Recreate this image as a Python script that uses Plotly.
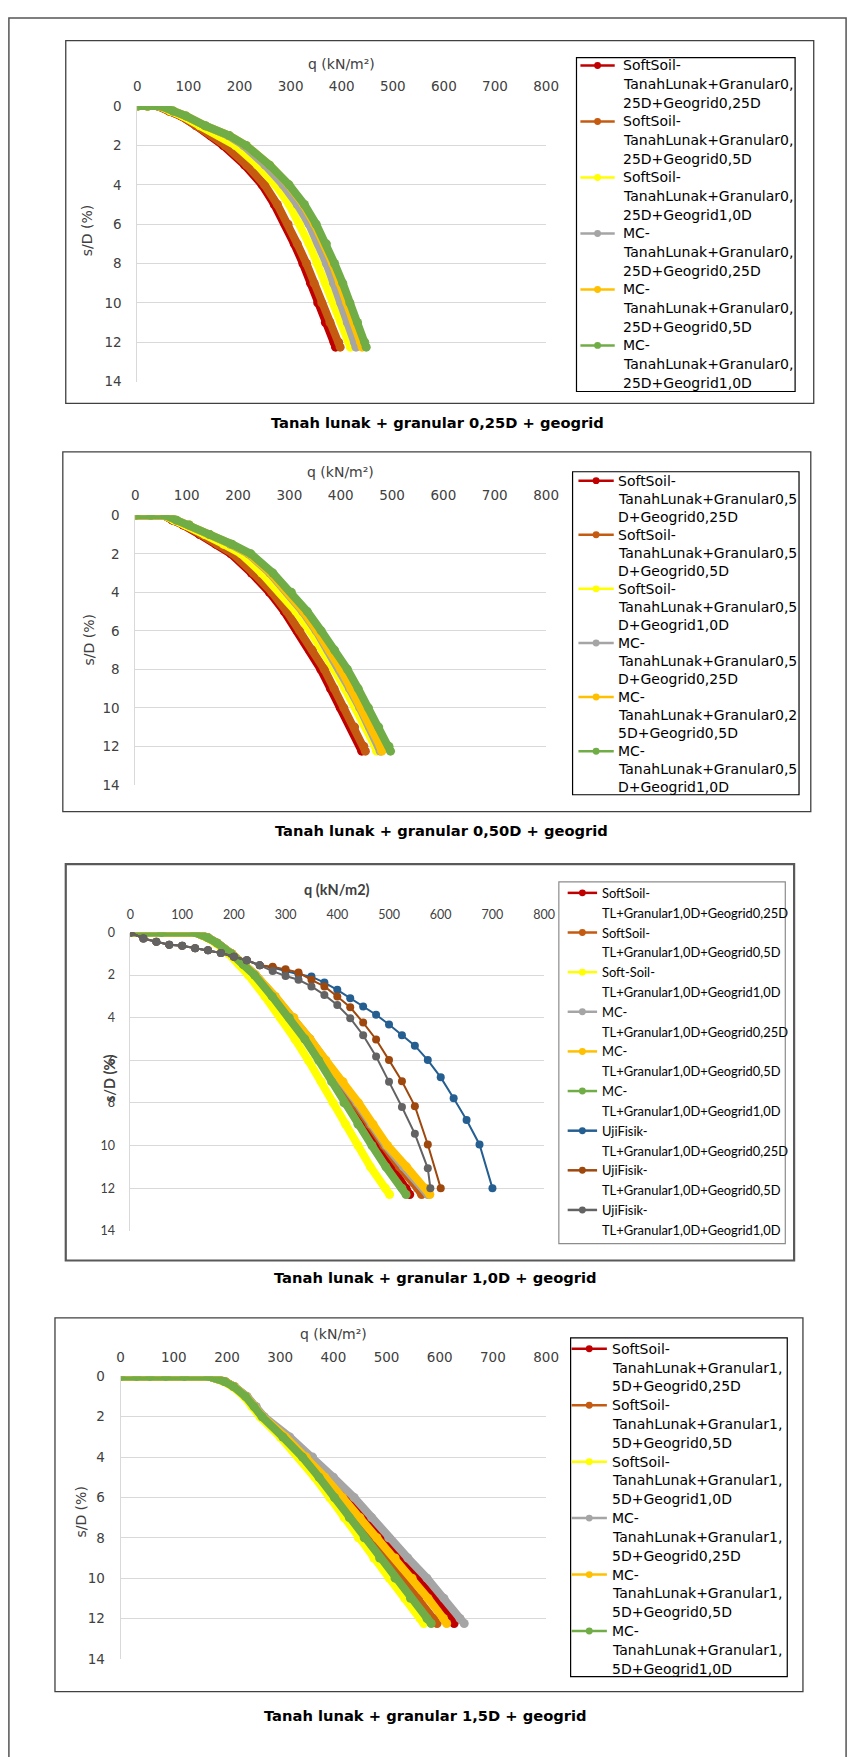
import plotly.graph_objects as go

W, H = 863, 1757

# ---------------- DATA ----------------
# Panel 1 : Tanah lunak + granular 0,25D + geogrid   (s/D in %, q in kN/m2)
S_P1 = [0, 0, 0, 0.25, 0.5, 1, 1.5, 2, 3, 4, 5, 6, 7, 8, 9, 10, 11, 12, 12.25]
Q_P1_SS_025 = [0, 20, 40, 62, 85, 115, 143, 168, 210, 244, 268, 289, 307, 324, 339, 353, 368, 385, 388]
Q_P1_SS_05 = [0, 20, 40, 62, 85, 116, 146, 172, 214, 249, 274, 295, 313, 331, 346, 361, 377, 394, 397]
Q_P1_SS_10 = [0, 20, 42, 65, 88, 122, 160, 192, 235, 270, 297, 318, 336, 352, 368, 384, 399, 414, 417]
Q_P1_MC_025 = [0, 20, 45, 70, 95, 133, 178, 208, 250, 285, 313, 336, 354, 370, 384, 398, 411, 425, 428]
Q_P1_MC_05 = [0, 20, 45, 70, 95, 133, 180, 213, 259, 296, 325, 347, 366, 382, 396, 410, 424, 437, 440]
Q_P1_MC_10 = [0, 20, 45, 70, 95, 133, 180, 213, 259, 297, 327, 350, 370, 386, 402, 416, 431, 445, 448]

# Panel 2 : Tanah lunak + granular 0,50D + geogrid
S_P2 = [0, 0, 0, 0.25, 0.5, 1, 1.5, 2, 3, 4, 5, 6, 7, 8, 9, 10, 11, 12, 12.25]
Q_P2_SS_025 = [0, 30, 55, 72, 93, 125, 157, 186, 226, 261, 290, 315, 339, 361, 380, 399, 420, 438, 441]
Q_P2_SS_05 = [0, 30, 55, 73, 95, 128, 160, 190, 230, 266, 295, 320, 345, 368, 387, 406, 427, 445, 448]
Q_P2_SS_10 = [0, 30, 55, 75, 98, 135, 172, 206, 246, 282, 313, 340, 365, 387, 408, 429, 449, 467, 470]
Q_P2_MC_025 = [0, 30, 58, 80, 104, 144, 185, 220, 262, 296, 326, 352, 375, 397, 417, 437, 456, 474, 477]
Q_P2_MC_05 = [0, 30, 58, 80, 105, 145, 187, 222, 264, 298, 328, 354, 378, 400, 420, 440, 460, 477, 480]
Q_P2_MC_10 = [0, 30, 58, 80, 105, 145, 188, 225, 268, 304, 335, 362, 388, 413, 434, 454, 474, 494, 497]

# Panel 3 : Tanah lunak + granular 1,0D + geogrid
S_P3 = [0, 0, 0, 0.25, 0.5, 1, 1.5, 2, 3, 4, 5, 6, 7, 8, 9, 10, 11, 12, 12.3]
Q_P3_SS_025 = [0, 60, 125, 150, 168, 195, 218, 240, 275, 310, 342, 371, 398, 424, 452, 480, 507, 533, 540]
Q_P3_SS_05 = [0, 60, 125, 150, 168, 196, 220, 242, 278, 314, 346, 376, 406, 434, 462, 490, 520, 555, 563]
Q_P3_SS_10 = [0, 60, 125, 148, 165, 190, 210, 228, 260, 290, 318, 344, 369, 392, 416, 440, 464, 493, 501]
Q_P3_MC_025 = [0, 60, 125, 150, 168, 196, 220, 242, 279, 315, 347, 377, 409, 438, 466, 494, 528, 566, 575]
Q_P3_MC_05 = [0, 60, 125, 150, 168, 196, 220, 242, 280, 316, 347, 378, 411, 441, 469, 497, 534, 571, 579]
Q_P3_MC_10 = [0, 60, 125, 150, 168, 195, 218, 240, 274, 307, 337, 364, 389, 413, 440, 467, 494, 525, 533]
# physical tests (UjiFisik)
Q_UJI_025 = [0, 25, 50, 75, 100, 125, 150, 175, 200, 225, 250, 275, 300, 325, 350, 375, 400,
             425, 450, 475, 500, 525, 550, 575, 600, 625, 650, 675, 700]
S_UJI_025 = [0, 0.28, 0.43, 0.57, 0.62, 0.74, 0.83, 0.96, 1.14, 1.30, 1.54, 1.65, 1.81, 1.96, 2.07, 2.35,
             2.69, 3.09, 3.47, 3.86, 4.32, 4.82, 5.31, 5.99, 6.80, 7.78, 8.80, 9.95, 12.0]
Q_UJI_05 = [0, 25, 50, 75, 100, 125, 150, 175, 200, 225, 250, 275, 300, 325, 350, 375, 400,
            425, 450, 475, 500, 525, 550, 575, 600]
S_UJI_05 = [0, 0.28, 0.43, 0.57, 0.62, 0.74, 0.83, 0.96, 1.14, 1.30, 1.54, 1.61, 1.73, 1.88, 2.22, 2.53,
            3.0, 3.51, 4.23, 5.02, 5.99, 6.98, 8.15, 9.95, 12.0]
Q_UJI_10 = [0, 25, 50, 75, 100, 125, 150, 175, 200, 225, 250, 275, 300, 325, 350, 375, 400,
            425, 450, 475, 500, 525, 550, 575, 580]
S_UJI_10 = [0, 0.28, 0.43, 0.57, 0.62, 0.74, 0.83, 0.96, 1.14, 1.30, 1.54, 1.81, 2.04, 2.22, 2.53, 2.93,
            3.40, 4.02, 4.82, 5.82, 7.01, 8.19, 9.45, 11.07, 12.0]

# Panel 4 : Tanah lunak + granular 1,5D + geogrid
S_P4 = [0, 0, 0, 0, 0, 0, 0.25, 0.5, 1, 1.5, 2, 3, 4, 5, 6, 7, 8, 9, 10, 11, 12, 12.25]
Q_P4_SS_025 = [0, 30, 55, 85, 120, 165, 196, 213, 237, 254, 268, 312, 352, 388, 422, 456, 490, 525, 560, 590, 620, 627]
Q_P4_SS_05 = [0, 30, 55, 85, 120, 165, 195, 212, 235, 251, 266, 307, 345, 378, 410, 440, 470, 500, 530, 560, 589, 595]
Q_P4_SS_10 = [0, 30, 55, 85, 120, 165, 193, 210, 232, 247, 262, 300, 335, 365, 393, 420, 447, 476, 505, 534, 563, 570]
Q_P4_MC_025 = [0, 30, 55, 85, 120, 165, 196, 214, 238, 255, 270, 318, 361, 400, 439, 472, 504, 540, 576, 608, 638, 646]
Q_P4_MC_05 = [0, 30, 55, 85, 120, 165, 196, 213, 236, 252, 267, 310, 349, 384, 417, 450, 482, 516, 548, 578, 607, 613]
Q_P4_MC_10 = [0, 30, 55, 85, 120, 165, 195, 212, 235, 251, 266, 305, 342, 373, 402, 430, 458, 487, 516, 545, 576, 584]

# Legend labels (as wrapped in the original)
LEG_P1 = [["SoftSoil-", "TanahLunak+Granular0,", "25D+Geogrid0,25D"],
          ["SoftSoil-", "TanahLunak+Granular0,", "25D+Geogrid0,5D"],
          ["SoftSoil-", "TanahLunak+Granular0,", "25D+Geogrid1,0D"],
          ["MC-", "TanahLunak+Granular0,", "25D+Geogrid0,25D"],
          ["MC-", "TanahLunak+Granular0,", "25D+Geogrid0,5D"],
          ["MC-", "TanahLunak+Granular0,", "25D+Geogrid1,0D"]]
LEG_P2 = [["SoftSoil-", "TanahLunak+Granular0,5", "D+Geogrid0,25D"],
          ["SoftSoil-", "TanahLunak+Granular0,5", "D+Geogrid0,5D"],
          ["SoftSoil-", "TanahLunak+Granular0,5", "D+Geogrid1,0D"],
          ["MC-", "TanahLunak+Granular0,5", "D+Geogrid0,25D"],
          ["MC-", "TanahLunak+Granular0,2", "5D+Geogrid0,5D"],
          ["MC-", "TanahLunak+Granular0,5", "D+Geogrid1,0D"]]
LEG_P3 = [["SoftSoil-", "TL+Granular1,0D+Geogrid0,25D"],
          ["SoftSoil-", "TL+Granular1,0D+Geogrid0,5D"],
          ["Soft-Soil-", "TL+Granular1,0D+Geogrid1,0D"],
          ["MC-", "TL+Granular1,0D+Geogrid0,25D"],
          ["MC-", "TL+Granular1,0D+Geogrid0,5D"],
          ["MC-", "TL+Granular1,0D+Geogrid1,0D"],
          ["UjiFisik-", "TL+Granular1,0D+Geogrid0,25D"],
          ["UjiFisik-", "TL+Granular1,0D+Geogrid0,5D"],
          ["UjiFisik-", "TL+Granular1,0D+Geogrid1,0D"]]
LEG_P4 = [["SoftSoil-", "TanahLunak+Granular1,", "5D+Geogrid0,25D"],
          ["SoftSoil-", "TanahLunak+Granular1,", "5D+Geogrid0,5D"],
          ["SoftSoil-", "TanahLunak+Granular1,", "5D+Geogrid1,0D"],
          ["MC-", "TanahLunak+Granular1,", "5D+Geogrid0,25D"],
          ["MC-", "TanahLunak+Granular1,", "5D+Geogrid0,5D"],
          ["MC-", "TanahLunak+Granular1,", "5D+Geogrid1,0D"]]

CAPTIONS = ["Tanah lunak + granular 0,25D + geogrid",
            "Tanah lunak + granular 0,50D + geogrid",
            "Tanah lunak + granular 1,0D + geogrid",
            "Tanah lunak + granular 1,5D + geogrid"]
X_TICKS = [0, 100, 200, 300, 400, 500, 600, 700, 800]
Y_TICKS = [0, 2, 4, 6, 8, 10, 12, 14]

FEM_COLORS = ["#C00000", "#C55A11", "#FFFF00", "#A5A5A5", "#FFC000", "#70AD47"]
UJI_COLORS = ["#255E91", "#9E480E", "#636363"]

# ---------------- LAYOUT GEOMETRY (pixels) ----------------
def px(x):
    return x / W

def py(y):
    return 1 - y / H

VERD = "DejaVu Sans, Verdana, sans-serif"
CALI = "Lato, Calibri, sans-serif"

panels = [
    dict(box=(63, 33, 826, 399), plot=(136, 99, 553, 377),
         series=[(S_P1, q) for q in [Q_P1_SS_025, Q_P1_SS_05, Q_P1_SS_10, Q_P1_MC_025, Q_P1_MC_05, Q_P1_MC_10]],
         uji=[], leg=LEG_P1, legbox=(584, 50, 807, 387), leg0=58, lsp=19, esp=56.5,
         lx=(588, 623), tx=629, lfont=(VERD, 14), tickfont=(VERD, 13.5),
         qtitle=("q (kN/m²)", 57, False), ytitle=(85, 225), ticky=78, cap=(442, 418),
         boxcol="#404040", boxw=1.3, legcol="#000000"),
    dict(box=(60, 448, 823, 811), plot=(134, 512, 553, 784),
         series=[(S_P2, q) for q in [Q_P2_SS_025, Q_P2_SS_05, Q_P2_SS_10, Q_P2_MC_025, Q_P2_MC_05, Q_P2_MC_10]],
         uji=[], leg=LEG_P2, legbox=(580, 468, 811, 794), leg0=477, lsp=18.3, esp=54.6,
         lx=(586, 622), tx=624, lfont=(VERD, 14), tickfont=(VERD, 13.5),
         qtitle=("q (kN/m²)", 468, False), ytitle=(87, 638), ticky=490, cap=(446, 830),
         boxcol="#404040", boxw=1.3, legcol="#000000"),
    dict(box=(63, 864, 806, 1264), plot=(129, 933, 551, 1234),
         series=[(S_P3, q) for q in [Q_P3_SS_025, Q_P3_SS_05, Q_P3_SS_10, Q_P3_MC_025, Q_P3_MC_05, Q_P3_MC_10]],
         uji=[(S_UJI_025, Q_UJI_025), (S_UJI_05, Q_UJI_05), (S_UJI_10, Q_UJI_10)],
         leg=LEG_P3, legbox=(566, 882, 797, 1247), leg0=893, lsp=20, esp=40,
         lx=(575, 605), tx=608, lfont=(CALI, 12.9), tickfont=(CALI, 12.5),
         qtitle=("q (kN/m2)", 890, True), ytitle=(107, 1080), ticky=913, cap=(440, 1281),
         boxcol="#595959", boxw=2.2, legcol="#8c8c8c"),
    dict(box=(52, 1322, 815, 1699), plot=(119, 1381, 553, 1666),
         series=[(S_P4, q) for q in [Q_P4_SS_025, Q_P4_SS_05, Q_P4_SS_10, Q_P4_MC_025, Q_P4_MC_05, Q_P4_MC_10]],
         uji=[], leg=LEG_P4, legbox=(578, 1342, 799, 1684), leg0=1353, lsp=19, esp=57,
         lx=(579, 615), tx=618, lfont=(VERD, 14), tickfont=(VERD, 13.5),
         qtitle=("q (kN/m²)", 1338, False), ytitle=(79, 1518), ticky=1360, cap=(430, 1723),
         boxcol="#404040", boxw=1.3, legcol="#000000"),
]

fig = go.Figure()
shapes = []
annotations = []
layout_axes = {}

# outer frame
shapes.append(dict(type="rect", xref="paper", yref="paper", x0=px(5), x1=px(859), y0=py(1790), y1=py(10),
                   line=dict(color="#555555", width=1.5), fillcolor="rgba(0,0,0,0)", layer="below"))

for i, p in enumerate(panels):
    n = "" if i == 0 else str(i + 1)
    xa, ya = "x" + n, "y" + n
    L, T, R, B = p["plot"]
    tf = dict(family=p["tickfont"][0], size=p["tickfont"][1], color="#404040")
    layout_axes["xaxis" + n] = dict(domain=[px(L), px(R)], anchor=ya, side="top", range=[0, 800],
                                    tickvals=X_TICKS, showgrid=False, zeroline=False, showline=False,
                                    ticks="", tickfont=tf, ticklabelstandoff=T - p["ticky"] - 10)
    layout_axes["yaxis" + n] = dict(domain=[py(B), py(T)], anchor=xa, range=[14, 0], tickvals=Y_TICKS,
                                    showgrid=True, gridcolor="#d9d9d9", gridwidth=1, zeroline=False,
                                    showline=True, linecolor="#d9d9d9", linewidth=1, ticks="",
                                    tickfont=tf, ticklabelstandoff=12)
    # panel box
    bx0, by0, bx1, by1 = p["box"]
    shapes.append(dict(type="rect", xref="paper", yref="paper", x0=px(bx0), x1=px(bx1), y0=py(by1), y1=py(by0),
                       line=dict(color=p["boxcol"], width=p["boxw"]), fillcolor="rgba(0,0,0,0)", layer="below"))
    # FEM series
    names = ["".join(l) for l in p["leg"]]
    wide = 9
    for k, (s, q) in enumerate(p["series"]):
        fig.add_trace(go.Scatter(x=q, y=s, xaxis=xa, yaxis=ya, mode="lines+markers", name=names[k],
                                 line=dict(color=FEM_COLORS[k], width=wide - 1),
                                 marker=dict(color=FEM_COLORS[k], size=wide),
                                 showlegend=False))
    for k, (s, q) in enumerate(p["uji"]):
        fig.add_trace(go.Scatter(x=q, y=s, xaxis=xa, yaxis=ya, mode="lines+markers", name=names[6 + k],
                                 line=dict(color=UJI_COLORS[k], width=2),
                                 marker=dict(color=UJI_COLORS[k], size=8),
                                 showlegend=False))
    # axis titles
    tfam = p["tickfont"][0]
    qt, qy, qb = p["qtitle"]
    fs_title = 14.5 if qb else 14
    annotations.append(dict(xref="paper", yref="paper", x=px((L + R) / 2), y=py(qy),
                            text=("<b>%s</b>" % qt) if qb else qt, showarrow=False,
                            font=dict(family=tfam, size=fs_title, color="#404040"),
                            xanchor="center", yanchor="middle"))
    yx, yy = p["ytitle"]
    annotations.append(dict(xref="paper", yref="paper", x=px(yx), y=py(yy),
                            text="<b>s/D (%)</b>" if qb else "s/D (%)", showarrow=False, textangle=-90,
                            font=dict(family=tfam, size=fs_title, color="#404040"),
                            xanchor="center", yanchor="middle"))
    # caption
    cx, cy = p["cap"]
    annotations.append(dict(xref="paper", yref="paper", x=px(cx), y=py(cy), text="<b>%s</b>" % CAPTIONS[i],
                            showarrow=False, font=dict(family="DejaVu Sans", size=14.7, color="#000000"),
                            xanchor="center", yanchor="middle"))
    # legend (manual, to match the original wrapping)
    lx0, ly0, lx1, ly1 = p["legbox"]
    shapes.append(dict(type="rect", xref="paper", yref="paper", x0=px(lx0), x1=px(lx1), y0=py(ly1), y1=py(ly0),
                       line=dict(color=p["legcol"], width=1.2), fillcolor="white"))
    cols = FEM_COLORS + UJI_COLORS
    for k, lines in enumerate(p["leg"]):
        y0 = p["leg0"] + k * p["esp"]
        a, b = p["lx"]
        shapes.append(dict(type="line", xref="paper", yref="paper", x0=px(a), x1=px(b), y0=py(y0), y1=py(y0),
                           line=dict(color=cols[k], width=2.5)))
        c = (a + b) / 2
        r = 3.5
        shapes.append(dict(type="circle", xref="paper", yref="paper", x0=px(c - r), x1=px(c + r),
                           y0=py(y0 + r), y1=py(y0 - r), line=dict(color=cols[k], width=0), fillcolor=cols[k]))
        for j, t in enumerate(lines):
            annotations.append(dict(xref="paper", yref="paper", x=px(p["tx"]), y=py(y0 + j * p["lsp"]),
                                    text=t, showarrow=False, xanchor="left", yanchor="middle",
                                    font=dict(family=p["lfont"][0], size=p["lfont"][1], color="#000000")))

fig.update_layout(width=W, height=H, margin=dict(l=0, r=0, t=0, b=0), paper_bgcolor="white",
                  plot_bgcolor="white", showlegend=False, shapes=shapes, annotations=annotations,
                  hovermode=False, **layout_axes)
fig.write_html("out.html", config={"displayModeBar": False, "staticPlot": True},
               post_script="document.body.style.margin='0';document.body.style.overflow='hidden';")
